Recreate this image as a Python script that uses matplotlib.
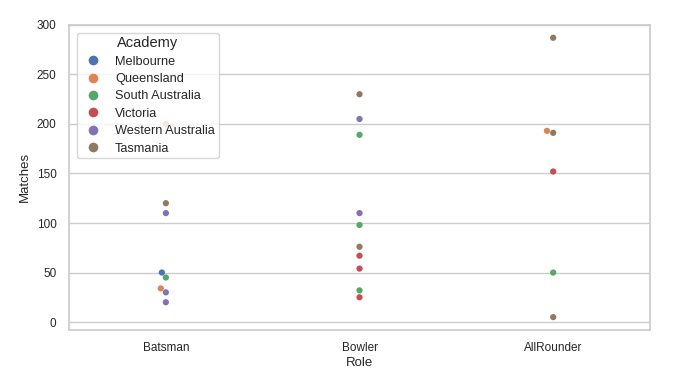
import matplotlib
matplotlib.use("Agg")
import matplotlib.pyplot as plt
import seaborn as sns
import pandas as pd

roles = ["Batsman", "Bowler", "AllRounder"]
academies = ["Melbourne", "Queensland", "South Australia", "Victoria",
             "Western Australia", "Tasmania"]

role = (["Batsman"] * 8 + ["Bowler"] * 10 + ["AllRounder"] * 6)
academy = ["Melbourne", "South Australia", "Queensland", "Western Australia",
           "Western Australia", "Western Australia", "Tasmania", "Queensland",
           "Tasmania", "Western Australia", "South Australia", "Western Australia",
           "South Australia", "Tasmania", "Victoria", "Victoria", "South Australia",
           "Victoria",
           "Tasmania", "Queensland", "Tasmania", "Victoria", "South Australia",
           "Tasmania"]
matches = [50, 45, 34, 30, 20, 110, 120, 200,
           230, 205, 189, 110, 98, 76, 67, 54, 32, 25,
           287, 193, 191, 152, 50, 5]

df = pd.DataFrame({"Role": role, "Academy": academy, "Matches": matches})

sns.set_theme(style="whitegrid")
plt.rcParams['font.family'] = ['Liberation Sans', 'DejaVu Sans']
fig = plt.figure(figsize=(7, 3.73), dpi=100)
ax = fig.add_axes([0.0986, 0.1153, 0.83, 0.818])
sns.swarmplot(data=df, x="Role", y="Matches", hue="Academy", order=roles,
              hue_order=academies, palette="deep", size=4.5, ax=ax)
ax.set_ylim(-8, 300)
ax.set_xlim(-0.5, 2.5)
ax.set_yticks([0, 50, 100, 150, 200, 250, 300])
ax.tick_params(axis="both", labelsize=8.5, pad=3)
ax.set_xlabel("Role", fontsize=9.5, labelpad=2)
ax.set_ylabel("Matches", fontsize=9.5, labelpad=4)
leg = ax.legend(title="Academy", loc="upper left", fontsize=9.2,
                title_fontsize=10.5, markerscale=1.55, labelspacing=0.42,
                borderaxespad=0.6, borderpad=0.3, handletextpad=0.7)
fig.savefig("out.png", dpi=100)
